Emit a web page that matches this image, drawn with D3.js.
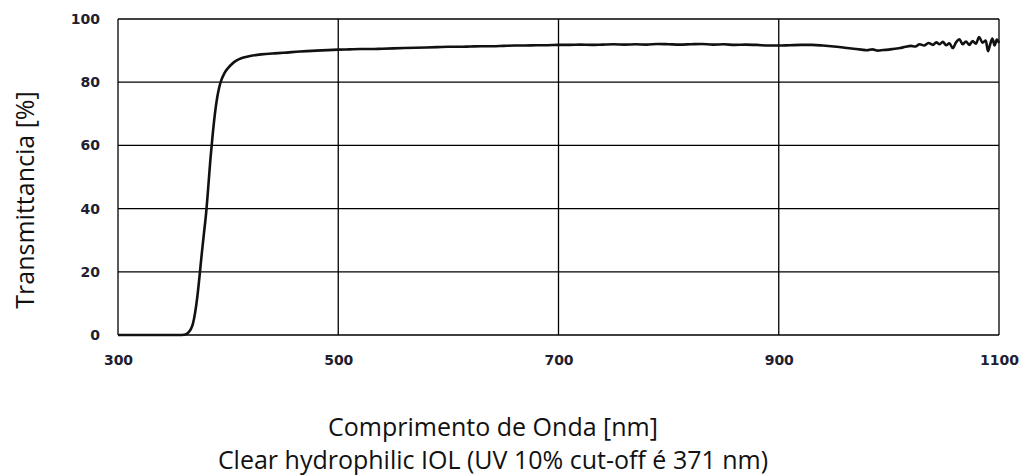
<!DOCTYPE html>
<html>
<head>
<meta charset="utf-8">
<script src="https://cdn.jsdelivr.net/npm/d3@7"></script>
<style>
  body { margin: 0; background: #fff; }
  .tick-label { font-family: "DejaVu Sans", Verdana, sans-serif; font-weight: bold; font-size: 14px; fill: #1e2030; }
  .title { font-family: "Open Sans", "Noto Sans", sans-serif; font-size: 25px; fill: #111; }
</style>
</head>
<body>
<svg id="chart" width="1022" height="476"></svg>
<script>
// wavelength (nm) and transmittance (%)
const wavelengths = [300, 355, 360, 362, 364, 366, 368, 370, 372, 374, 376, 378, 380, 382, 384, 386, 388, 390,
  392, 394, 396, 398, 400, 403, 406, 410, 415, 420, 430, 440, 450, 465, 480, 500,
  510, 520, 530, 540, 550, 560, 570, 580, 590, 600, 610, 620, 630, 640, 650, 660, 670, 680, 690, 700,
  710, 720, 730, 740, 750, 760, 770, 780, 790, 800, 810, 820, 830, 840, 850, 860, 870, 880, 890, 900,
  910, 920, 930, 940, 950, 960, 970, 975, 980, 985, 990, 995, 1000, 1005, 1010, 1015, 1020,
  1024, 1028, 1032, 1036, 1040, 1043, 1046, 1049, 1052, 1055, 1058, 1061, 1064, 1067, 1070, 1073,
  1076, 1079, 1082, 1085, 1088, 1090, 1092, 1094, 1096, 1098, 1100];
const transmittance = [0, 0, 0.1, 0.3, 0.8, 1.8, 3.5, 7, 12, 18.5, 25.5, 32, 38.5, 47, 56, 63.5, 70, 75,
  78.5, 80.8, 82.4, 83.6, 84.5, 85.6, 86.5, 87.3, 87.9, 88.3, 88.8, 89.1, 89.3, 89.7, 90.0, 90.3,
  90.4, 90.5, 90.5, 90.6, 90.7, 90.8, 90.9, 91.0, 91.1, 91.2, 91.2, 91.3, 91.4, 91.4, 91.5, 91.6, 91.6, 91.7, 91.7, 91.8,
  91.8, 91.9, 91.8, 91.9, 92.0, 91.9, 92.0, 91.9, 92.1, 92.0, 91.9, 92.0, 92.1, 91.9, 92.0, 91.8, 91.9, 91.8, 91.6, 91.6,
  91.7, 91.8, 91.8, 91.6, 91.3, 90.9, 90.5, 90.3, 90.1, 90.4, 90.0, 90.2, 90.3, 90.6, 90.8, 91.2, 91.5,
  91.3, 92.0, 91.6, 92.4, 91.8, 92.6, 92.0, 92.8, 91.7, 92.3, 90.8, 92.6, 93.6, 92.0, 92.9, 91.8,
  93.0, 92.2, 94.3, 92.5, 93.2, 89.8, 92.0, 93.8, 91.6, 93.5, 92.4];

const xTicks = [300, 500, 700, 900, 1100];
const yTicks = [0, 20, 40, 60, 80, 100];
const xTitle = "Comprimento de Onda [nm]";
const subTitle = "Clear hydrophilic IOL (UV 10% cut-off é 371 nm)";
const yTitle = "Transmittancia [%]";

const margin = { top: 19, right: 23, bottom: 141, left: 118 },
  width = 1022,
  height = 476,
  innerWidth = width - margin.left - margin.right,
  innerHeight = height - margin.top - margin.bottom;

const data = wavelengths.map((w, i) => ({ w: w, t: transmittance[i] }));

const svg = d3.select('#chart');
const g = svg.append('g').attr('transform', `translate(${margin.left},${margin.top})`);

const x_Scale = d3.scaleLinear().domain([300, 1100]).range([0, innerWidth]);
const y_Scale = d3.scaleLinear().domain([0, 100]).range([innerHeight, 0]);

// grid
g.selectAll('.hgrid').data(yTicks).join('line').attr('class', 'hgrid')
  .attr('x1', 0).attr('x2', innerWidth)
  .attr('y1', d => y_Scale(d)).attr('y2', d => y_Scale(d))
  .attr('stroke', '#000').attr('stroke-width', 1.3);

g.selectAll('.vgrid').data(xTicks).join('line').attr('class', 'vgrid')
  .attr('x1', d => x_Scale(d)).attr('x2', d => x_Scale(d))
  .attr('y1', 0).attr('y2', innerHeight)
  .attr('stroke', '#000').attr('stroke-width', 1.3);

// axes labels
const xAxis = g.append('g').attr('transform', `translate(0,${innerHeight})`)
  .call(d3.axisBottom(x_Scale).tickValues(xTicks).tickFormat(d3.format('d')).tickSize(0).tickPadding(20));
xAxis.select('.domain').remove();
xAxis.selectAll('text').attr('class', 'tick-label').attr('fill', null);

const yAxis = g.append('g')
  .call(d3.axisLeft(y_Scale).tickValues(yTicks).tickFormat(d3.format('d')).tickSize(0).tickPadding(18));
yAxis.select('.domain').remove();
yAxis.selectAll('text').attr('class', 'tick-label').attr('fill', null);

// curve
const line = d3.line()
  .x(d => x_Scale(d.w))
  .y(d => y_Scale(d.t))
  .curve(d3.curveMonotoneX);

g.selectAll('.curve').data([data]).join('path').attr('class', 'curve')
  .attr('d', line)
  .attr('fill', 'none')
  .attr('stroke', '#111')
  .attr('stroke-width', 2.6)
  .attr('stroke-linejoin', 'round');

// titles
svg.append('text').attr('class', 'title')
  .attr('x', 493).attr('y', 436)
  .attr('text-anchor', 'middle')
  .text(xTitle);

svg.append('text').attr('class', 'title')
  .attr('x', 493).attr('y', 469)
  .attr('text-anchor', 'middle')
  .text(subTitle);

svg.append('text').attr('class', 'title')
  .attr('transform', 'translate(34,200) rotate(-90)')
  .attr('text-anchor', 'middle')
  .text(yTitle);
</script>
</body>
</html>
